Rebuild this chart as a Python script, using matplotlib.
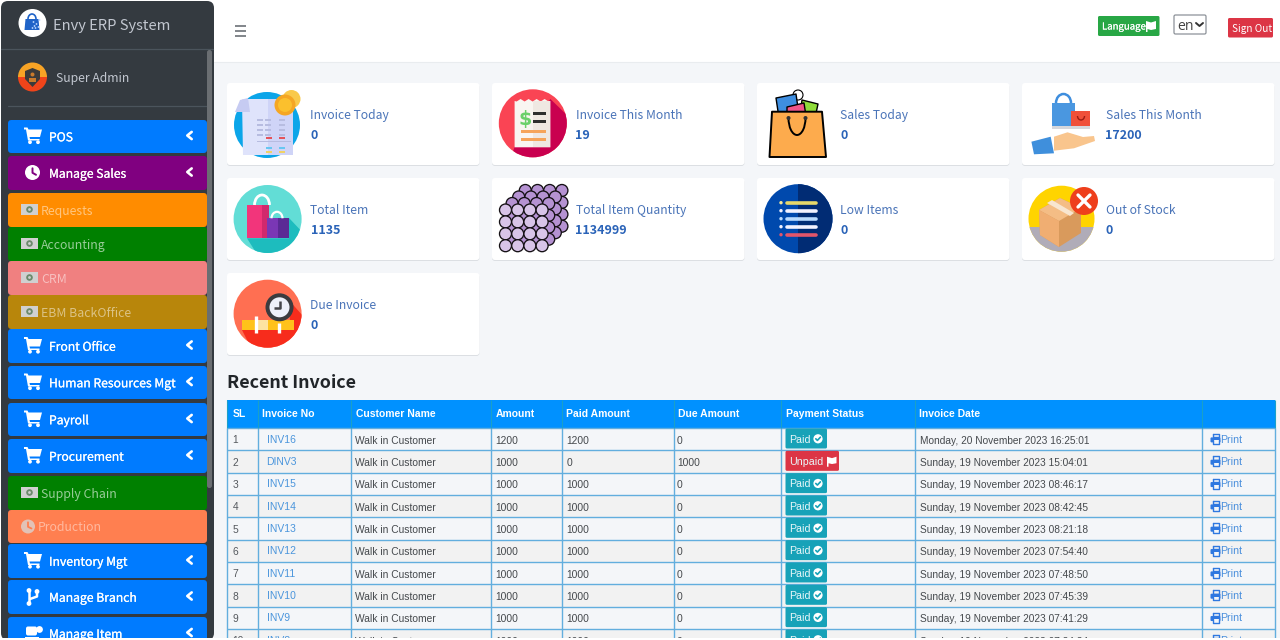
import matplotlib
matplotlib.use("Agg")
import matplotlib.pyplot as plt
import matplotlib.patheffects as pe
from matplotlib.patches import FancyBboxPatch, Circle, Polygon, Rectangle, Wedge, Arc

# ---------- data ----------
menu_labels = ["POS", "Manage Sales", "Requests", "Accounting", "CRM", "EBM BackOffice", "Front Office",
               "Human Resources Mgt", "Payroll", "Procurement", "Supply Chain", "Production",
               "Inventory Mgt", "Manage Branch", "Manage Item"]
menu_kinds = ["cart", "clock", "bill", "bill", "bill", "bill", "cart", "cart", "cart", "cart",
              "bill", "clock2", "cart", "branch", "cup"]
card_titles = ["Invoice Today", "Invoice This Month", "Sales Today", "Sales This Month", "Total Item",
               "Total Item Quantity", "Low Items", "Out of Stock", "Due Invoice"]
card_values = ["0", "19", "0", "17200", "1135", "1134999", "0", "0", "0"]
columns = ["SL", "Invoice No", "Customer Name", "Amount", "Paid Amount", "Due Amount", "Payment Status", "Invoice Date", ""]
sl = ["1", "2", "3", "4", "5", "6", "7", "8", "9", "10"]
invoice_no = ["INV16", "DINV3", "INV15", "INV14", "INV13", "INV12", "INV11", "INV10", "INV9", "INV8"]
amount = [1200, 1000, 1000, 1000, 1000, 1000, 1000, 1000, 1000, 1000]
paid = [1200, 0, 1000, 1000, 1000, 1000, 1000, 1000, 1000, 1000]
due = [0, 1000, 0, 0, 0, 0, 0, 0, 0, 0]
status = ["Paid", "Unpaid", "Paid", "Paid", "Paid", "Paid", "Paid", "Paid", "Paid", "Paid"]
dates = ["Monday, 20 November 2023 16:25:01", "Sunday, 19 November 2023 15:04:01",
         "Sunday, 19 November 2023 08:46:17", "Sunday, 19 November 2023 08:42:45",
         "Sunday, 19 November 2023 08:21:18", "Sunday, 19 November 2023 07:54:40",
         "Sunday, 19 November 2023 07:48:50", "Sunday, 19 November 2023 07:45:39",
         "Sunday, 19 November 2023 07:41:29", "Sunday, 19 November 2023 07:34:34"]

# ---------- styles / layout ----------
BLUE, PURPLE, ORANGE, GREEN, PINK, GOLD, CORAL = "#007bff", "#800080", "#ff8c00", "#008000", "#f08080", "#b8860b", "#ff7f50"
menu_colors = [BLUE, PURPLE, ORANGE, GREEN, PINK, GOLD, BLUE, BLUE, BLUE, BLUE, GREEN, CORAL, BLUE, BLUE, BLUE]
menu_tops = [120, 156, 193, 227, 261, 295, 329, 366, 403, 439, 476, 510, 544, 580, 617]
menu_bots = [153, 190, 227, 261, 295, 329, 363, 399, 436, 473, 510, 543, 578, 614, 650]
card_x = [227, 492, 757, 1022]
card_w = 253
card_y = [83, 178, 273]
col_x = [227, 258, 351, 491, 562, 673.5, 781, 914.5, 1201.5, 1275]
row_y0, row_h = 428, 22.33
SANS = ["Noto Sans CJK SC", "DejaVu Sans"]
TBL = ["Liberation Sans", "DejaVu Sans"]

fig = plt.figure(figsize=(12.8, 6.4), dpi=100, facecolor="white")
ax = fig.add_axes([0, 0, 1, 1])
ax.set_xlim(0, 1280)
ax.set_ylim(640, 0)
ax.axis("off")


def rr(x0, y0, x1, y1, r, fc, ec="none", lw=0, z=2):
    p = FancyBboxPatch((x0, y0), x1 - x0, y1 - y0, boxstyle=f"round,pad=0,rounding_size={r}",
                       fc=fc, ec=ec, lw=lw, zorder=z, mutation_aspect=1)
    ax.add_patch(p)
    return p


def R(x0, y0, x1, y1, fc, z=2):
    p = Rectangle((x0, y0), x1 - x0, y1 - y0, fc=fc, ec="none", zorder=z)
    ax.add_patch(p)
    return p


def C(x, y, r, fc, ec="none", lw=0, z=3):
    p = Circle((x, y), r, fc=fc, ec=ec, lw=lw, zorder=z)
    ax.add_patch(p)
    return p


def P(pts, fc, z=3, ec="none", lw=0, clip=None):
    p = Polygon(pts, closed=True, fc=fc, ec=ec, lw=lw, zorder=z, joinstyle="round")
    ax.add_patch(p)
    if clip is not None:
        p.set_clip_path(clip)
    return p


def L(xs, ys, c, lw=1, z=3, **kw):
    ax.plot(xs, ys, color=c, lw=lw, zorder=z, solid_capstyle=kw.pop("cap", "round"), **kw)


def T(x, y, s, size, color, fam=SANS, weight="normal", ha="left", alpha=None, z=6, heavy=0):
    t = ax.text(x, y, s, fontsize=size * 0.72, color=color, family=fam, weight=weight, ha=ha,
                va="center_baseline", alpha=alpha, zorder=z)
    if heavy:
        t.set_path_effects([pe.withStroke(linewidth=heavy, foreground=color)])
    return t


def cart(cx, cy, c="white", s=1.0):
    pts = [(-9, -7.5), (-5.5, -7.5), (-4.5, -5.5), (9, -5.5), (7, 2), (-3.5, 2), (-3, 4), (6.5, 4), (6.5, 5.5),
           (-5, 5.5), (-7, -5.5), (-9, -5.5)]
    P([(cx + a * s, cy + b * s) for a, b in pts], c, z=5)
    C(cx - 3 * s, cy + 7.2 * s, 1.9 * s, c, z=5)
    C(cx + 5 * s, cy + 7.2 * s, 1.9 * s, c, z=5)


def chevron(cx, cy):
    L([cx + 2.2, cx - 2.2, cx + 2.2], [cy - 3.6, cy, cy + 3.6], "white", 1.9, z=5)


def clock(cx, cy, r, c, bg, alpha=1):
    C(cx, cy, r, c, z=5).set_alpha(alpha)
    L([cx, cx, cx + 3.5], [cy - 4.2, cy + 0.3, cy + 2.3], bg, 1.4, z=5)


def bill(cx, cy):
    R(cx - 8.5, cy - 5.5, cx + 8.5, cy + 5, "#d0d0d0", z=5)
    C(cx, cy, 3.3, "#6b8a6b", z=5)
    C(cx, cy, 1.4, "#d0d0d0", z=5)


# ---------- page ----------
R(0, 0, 1280, 640, "white", z=0)
R(214, 0, 1280, 640, "#f4f6f9", z=0)
R(214, 1, 1280, 62, "white", z=1)
L([214, 1280], [62, 62], "#e9ecef", 0.8, z=1)

# sidebar
rr(1, 1, 214, 640, 7, "#343a40", z=1)
L([1, 213], [48.5, 48.5], "#4b545c", 0.9)
L([8, 207], [105.5, 105.5], "#4b545c", 0.9)
rr(207, 50, 212, 488, 2.4, "#6a6e72", z=3)
# logo
C(32.5, 23, 14, "white")
P([(25.5, 19), (38.5, 19), (39.5, 30), (24.5, 30)], "#1f63c8")
ax.add_patch(Arc((32, 19), 8, 10, theta1=180, theta2=360, ec="#1f63c8", lw=1.2, zorder=4))
for dx, dy in [(2, -1), (5, 1), (3, 3), (7, 4), (4, 5), (8, -3), (1, 5)]:
    C(31.5 + dx, 23 + dy, 0.9, "#bcd8ff", z=4)
T(53, 24.5, "Envy ERP System", 14.7, "#c2c7d0")
# avatar
ax.add_patch(Wedge((32.5, 77), 14.5, 180, 360, fc="#f7a325", ec="none", zorder=3))
ax.add_patch(Wedge((32.5, 77), 14.5, 0, 180, fc="#f0441a", ec="none", zorder=3))
P([(25, 71), (32.5, 68), (40, 71), (40, 79), (32.5, 87), (25, 79)], "#3a3a3a", z=4)
C(32.5, 74.5, 2, "#c97a2c", z=5)
R(29, 77.5, 36, 81.5, "#c97a2c", z=5)
T(56, 76.7, "Super Admin", 12.2, "#c2c7d0")

# menu
for lab, kind, col, t, b in zip(menu_labels, menu_kinds, menu_colors, menu_tops, menu_bots):
    rr(8, t, 207, b, 3.5, col, z=2)
    cy = (t + b) / 2
    if kind == "bill":
        bill(29.5, cy - 0.5)
        T(41, cy - 0.2, lab, 12.3, "white", alpha=0.5 if col in (ORANGE, PINK, GOLD) else 0.6)
    elif kind == "clock2":
        C(28, cy, 7, "#d9d9d9", z=5).set_alpha(0.75)
        L([28, 28, 31.5], [cy - 4.2, cy + 0.3, cy + 2], col, 1.3, z=5)
        T(37.5, cy - 0.2, lab, 12.3, "white", alpha=0.45)
    else:
        if kind == "cart":
            cart(33, cy - 1.5)
        elif kind == "clock":
            clock(32.5, cy - 0.5, 7.5, "white", col)
        elif kind == "branch":
            C(29, cy - 6.5, 2.4, "white", z=5)
            C(29, cy + 6.5, 2.4, "white", z=5)
            C(37, cy - 5.5, 2.4, "white", z=5)
            L([29, 29], [cy - 6, cy + 6], "white", 1.8, z=5)
            L([37, 37, 30], [cy - 5, cy - 0.5, cy + 2], "white", 1.8, z=5)
        elif kind == "cup":
            rr(26, cy - 7, 37, cy + 2, 2, "white", z=5)
            C(39.5, cy - 4, 3.4, "white", z=5)
            R(25, cy + 3, 39, cy + 5, "white", z=5)
        T(49, cy - 0.2, lab, 12.15, "white", heavy=0.15)
        chevron(189.5, cy - 1)

# top bar
for y in (26, 31, 36):
    L([234.5, 245.5], [y, y], "#6c7177", 1.2, cap="butt")
rr(1098, 16, 1159.5, 36, 1.5, "#28a745")
T(1102, 26, "Language", 9.6, "white", heavy=0.1)
P([(1146, 21), (1151, 22.5), (1156, 21), (1156, 29), (1151, 30), (1147.5, 29), (1147.5, 32), (1146, 32)], "white", z=5)
rr(1174, 15, 1206, 34, 1.5, "white", ec="#8d9299", lw=0.9)
T(1177, 25, "en", 14, "#444444", fam=["Open Sans", "DejaVu Sans"])
L([1196, 1199.5, 1203], [23, 26, 23], "#333333", 1.4)
rr(1228, 18, 1273, 37.5, 1.5, "#dc3545")
T(1232, 27.5, "Sign Out", 10, "white")

# cards
positions = [(0, 0), (1, 0), (2, 0), (3, 0), (0, 1), (1, 1), (2, 1), (3, 1), (0, 2)]
for title, val, (i, j) in zip(card_titles, card_values, positions):
    x, y = card_x[i], card_y[j]
    rr(x, y + 1.2, x + card_w - 0.5, y + 83, 3, "#dcdfe3", z=1)
    rr(x, y, x + card_w - 0.5, y + 82, 3, "white", z=2)
    T(x + 83.5, y + 31, title, 12.1, "#4a74b8")
    T(x + 83.5, y + 51, val, 12.5, "#2a63b8", weight="bold")

# icon 1: invoice today
C(267, 125, 33, "#0ba5e9")
P([(242, 99), (289, 99), (293, 105), (293, 155), (243, 155)], "#dfe3fb", z=4)
P([(268, 99), (289, 99), (293, 105), (293, 155), (268, 155)], "#cfd4f7", z=4)
P([(235, 112), (240, 100), (248, 98), (250, 112)], "#c6cbf2", z=4)
for yy in (119, 124, 129, 134):
    for xx in (257, 265, 279):
        R(xx, yy, xx + 6, yy + 1.6, "#b7bce0", z=5)
R(257, 141, 291, 142.2, "#b7bce0", z=5)
R(266, 137, 272, 139, "#e4535a", z=5)
R(279, 137, 285, 139, "#e4535a", z=5)
R(266, 147, 272, 149, "#66c7f2", z=5)
R(279, 147, 285, 149, "#66c7f2", z=5)
R(266, 151, 272, 153, "#f0d266", z=5)
R(279, 151, 285, 153, "#f0d266", z=5)
C(291.5, 99, 9, "#f9c94a", z=5)
C(285, 105, 10.5, "#f5a623", z=6)
C(285, 105, 7, "#fbc02d", z=6)

# icon 2: invoice this month
c2 = C(532.8, 123.3, 34, "#fa4454")
P([(550.4, 99), (570, 118), (570, 160), (510, 160), (514.6, 147)], "#c9004f", z=3.5, clip=c2)
zig = [(514.6, 101)] + [(516.6 + 4 * k, 101.5 if k % 2 == 0 else 99) for k in range(9)] + [(550.4, 101)]
P(zig + [(550.4, 147.3), (514.6, 147.3)], "#f9f5f1", z=4)
R(532.5, 101, 550.4, 147.3, "#efe8e2", z=4)
T(524.8, 117, "$", 19, "#6ad06a", fam=["DejaVu Sans"], weight="bold", ha="center")
R(532.5, 111.7, 545.5, 115, "#2f2f2f", z=5)
R(532.5, 120, 545.5, 123.3, "#2f2f2f", z=5)
R(520.5, 130, 545.5, 133, "#f6a45a", z=5)
R(520.5, 138, 545.5, 141.3, "#f6a45a", z=5)

# icon 3: sales today
P([(776, 98), (796, 94), (799, 115), (779, 118)], "#3e8ee0", z=3, ec="black", lw=1)
P([(802, 100), (818, 104), (815, 118), (800, 115)], "#8fdc3a", z=3, ec="black", lw=1)
P([(787, 107), (804, 103), (806, 116), (787, 116)], "#f0568a", z=3.2, ec="black", lw=1)
C(798, 95, 5, "white", ec="black", lw=0.8, z=2.9)
P([(772, 111.7), (822, 111.7), (826, 157), (769.5, 157)], "#fdab4d", z=4, ec="black", lw=1.4)
ax.add_patch(Arc((797, 118), 17, 34, theta1=0, theta2=180, ec="black", lw=1.4, zorder=5))
C(788.5, 118, 2, "#333333", z=5)
C(805.5, 118, 2, "#333333", z=5)

# icon 4: sales this month
ax.add_patch(Arc((1063.5, 103), 15, 18, theta1=180, theta2=360, ec="#3e8ede", lw=1.8, zorder=3))
R(1051.7, 103, 1075.3, 126, "#4a97e0")
R(1071, 111, 1090, 126, "#f0503a", z=4)
ax.add_patch(Arc((1081, 116), 7, 8, theta1=0, theta2=180, ec="#9c1c12", lw=1, zorder=5))
R(1051.7, 126, 1090, 129, "#d5d7dc")
P([(1054, 136.7), (1067.5, 132.3), (1083, 137), (1094, 136), (1095, 141), (1074, 148.3), (1054, 150.7)], "#f9c58d", z=4)
P([(1031.4, 141.7), (1050.7, 136.7), (1054, 153.3), (1034, 154.3)], "#3f8fdc", z=5)

# icon 5: total item
c5 = C(267.6, 219, 34, "#62ddd6")
P([(247, 238.3), (289, 238.3), (289, 218), (306, 236), (306, 262), (262, 262)], "#1dbcbe", z=3.5, clip=c5)
P([(247, 205), (269, 205), (269, 238.3), (247, 238.3)], "#f2357b", z=4)
R(262, 205, 269, 238.3, "#d1296d", z=4)
ax.add_patch(Arc((262, 205), 15, 20, theta1=180, theta2=360, ec="white", lw=2, zorder=5))
P([(267.3, 218.3), (288.6, 218.3), (288.6, 238.3), (267.3, 238.3)], "#7a37b5", z=5)
R(278, 218.3, 288.6, 238.3, "#5b2a95", z=5)
ax.add_patch(Arc((277, 218.3), 11, 13, theta1=180, theta2=360, ec="white", lw=1.6, zorder=6))

# icon 6: spheres
for lay in range(3, -1, -1):
    for gi in range(4):
        for gj in range(4):
            cxs = 505.5 + gi * 12.2 + lay * 6.6
            cys = 210 + gj * 11.9 - lay * 6.5
            C(cxs, cys, 6.0, "#d8c4e8" if lay == 0 else "#b592d2", ec="#141014", lw=0.95, z=4 + (3 - lay) * 0.1)

# icon 7: low items
C(798, 218.7, 34.5, "#0049ad")
ax.add_patch(Wedge((798, 218.7), 34.5, -90, 90, fc="#012c74", ec="none", zorder=3))
bar_c = ["#e7d96a", "#f2f2ff", "#b9dbff", "#f2f2ff", "#e2556a"]
for k, c in enumerate(bar_c):
    yy = 202.7 + k * 8
    C(781, yy, 1.7, c if k else "#f4e89a", z=4)
    L([786.5, 815.5], [yy, yy], c, 2.6, z=4)

# icon 8: out of stock
C(1061.5, 218.7, 33, "#ffd400")
c8 = C(1061.5, 218.7, 33, "none", z=2.5)
R(1028, 226.7, 1095, 252, "#b0acb8", z=3).set_clip_path(c8)
P([(1039, 210), (1060, 198), (1081, 208), (1081, 233), (1059, 247), (1040, 235)], "#d99a5c", z=4)
P([(1039, 210), (1060, 198), (1081, 208), (1059, 221)], "#f4bd85", z=4)
P([(1039, 210), (1059, 221), (1059, 247), (1040, 235)], "#f0ae72", z=4)
P([(1047, 203), (1070, 216), (1074, 213), (1052, 200)], "#f8e6d0", z=5)
C(1084, 201, 14, "#ee3f1c", z=6)
L([1078, 1090], [195, 207], "white", 2.4, z=7)
L([1078, 1090], [207, 195], "white", 2.4, z=7)

# icon 9: due invoice
c9 = C(267.6, 313.7, 34, "#ff6f52")
P([(242, 330), (252, 350), (303, 350), (303, 316), (287, 298), (290, 320), (294, 330)], "#f72c1c", z=3.5, clip=c9)
R(242, 320, 294, 330, "#ffc21a", z=4)
R(256, 320, 268, 330, "#fde3a0", z=4)
L([256, 256], [316, 333], "white", 2.4, z=5, cap="butt")
L([279, 279], [323, 333], "white", 2.4, z=5, cap="butt")
C(279.5, 307.3, 14, "#3b3b3f", z=5)
C(279.5, 307.3, 10, "#eef0fa", z=6)
L([279.5, 279.5, 274], [301, 308, 308], "#44444a", 1.8, z=7, cap="butt")

# heading
T(227, 381.5, "Recent Invoice", 17.9, "#212529", weight="bold")

# table
LINE = "#62aede"
R(col_x[0], 400, col_x[-1], row_y0, "#0091ff")
for name, x0 in zip(columns, col_x[:-1]):
    T(x0 + 4.5 if x0 > 227 else 233, 413.3, name, 10.4, "white", fam=TBL, weight="bold")
for i in range(len(sl)):
    top = row_y0 + i * row_h
    R(col_x[0], top, col_x[-1], top + row_h, "#f2f2f2" if i % 2 else "#f4f6f9", z=1)
    cy = top + 11.4
    T(232.5, cy, sl[i], 10.3, "#55595e", fam=TBL)
    T(266.5, cy - 0.8, invoice_no[i], 10.4, "#4a95dc", fam=TBL)
    T(355, cy + 0.2, "Walk in Customer", 10.2, "#45494d", fam=TBL)
    T(495, cy + 0.2, str(amount[i]), 10.2, "#45494d", fam=TBL)
    T(566.5, cy + 0.2, str(paid[i]), 10.2, "#45494d", fam=TBL)
    T(677, cy + 0.2, str(due[i]), 10.2, "#45494d", fam=TBL)
    T(919.5, cy + 0.4, dates[i], 10.15, "#45494d", fam=TBL)
    ispaid = status[i] == "Paid"
    bx1 = 827 if ispaid else 839
    rr(785.5, top + 0.5, bx1, top + 20.5, 1.5, "#17a2b8" if ispaid else "#dc3545", z=3)
    T(789.5, cy - 0.8, status[i], 10.6, "#e8f6f8", fam=TBL)
    if ispaid:
        C(818, cy - 0.6, 4.6, "white", z=5)
        L([815.8, 817.4, 820.4], [cy - 0.6, cy + 1, cy - 2.2], "#17a2b8", 1.2, z=6)
    else:
        P([(827, cy - 5), (832, cy - 3.6), (836.5, cy - 5), (836.5, cy + 1.5), (832, cy + 2.3), (828.5, cy + 1.5),
           (828.5, cy + 5), (827, cy + 5)], "white", z=5)
    # printer
    rr(1210.5, cy - 2, 1220.5, cy + 3, 1, "#2f78e0", z=5)
    R(1212.5, cy + 1, 1218.5, cy + 4.5, "#f4f6f9", z=5)
    L([1213, 1218.5, 1218.5, 1213, 1213], [cy - 5.5, cy - 5.5, cy - 2, cy - 2, cy - 5.5], "#2f78e0", 1, z=5)
    L([1212.5, 1212.5, 1218.5, 1218.5], [cy + 1, cy + 4.5, cy + 4.5, cy + 1], "#2f78e0", 1, z=5)
    T(1220.5, cy - 0.8, "Print", 10.6, "#4a8fdc", fam=TBL)
for i in range(0, len(sl) + 1):
    yy = row_y0 + i * row_h
    if yy < 640:
        L([col_x[0], col_x[-1]], [yy, yy], LINE, 1.0, z=2.5, cap="butt")
for x0 in col_x:
    L([x0, x0], [row_y0, 640], LINE, 1.0, z=2.5, cap="butt")
    L([x0, x0], [400, row_y0], "#1aa0c8", 0.8, z=2.5, cap="butt")

# bottom crop
R(0, 637.5, 1280, 640, "white", z=20)
R(0, 0, 1280, 0.8, "white", z=20)

fig.savefig("out.png", dpi=100, facecolor="white")
